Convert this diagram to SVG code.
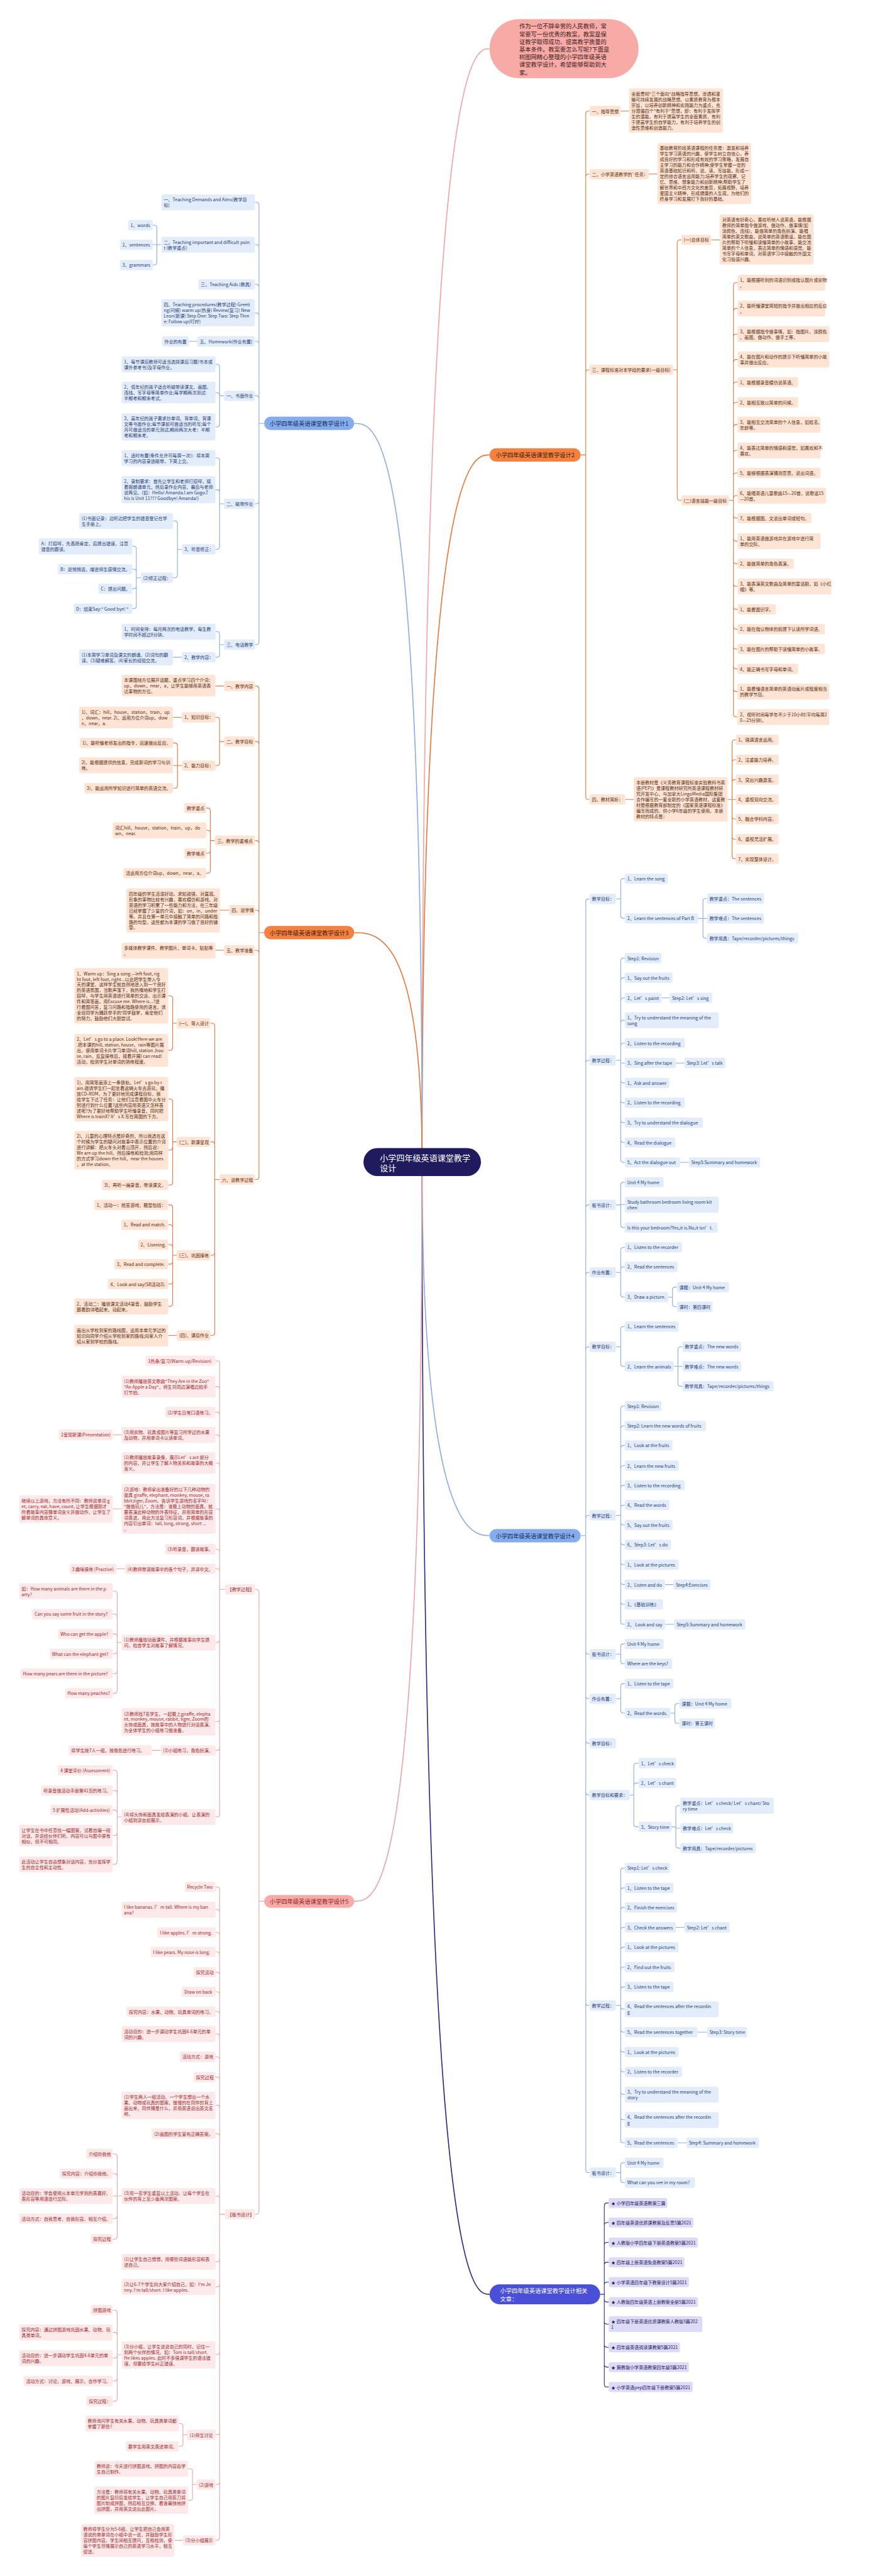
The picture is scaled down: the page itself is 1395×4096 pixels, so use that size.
<svg xmlns="http://www.w3.org/2000/svg" width="1395" height="4096" viewBox="0 0 1395 4096">
<style>
text{font-family:"Noto Sans CJK SC","Noto Sans",sans-serif;font-size:13px;dominant-baseline:central}
rect{rx:5px;ry:5px}
.o rect{fill:#fde4d5}.o text{fill:#5b2b0e}
.b rect{fill:#e3ecfb}.b text{fill:#1f3d79}
.p rect{fill:#fde9e9}.p text{fill:#a3262a}
.v rect{fill:#dcdaf6}.v text{fill:#23205c}
.h text{font-size:17px}
.ho rect{fill:#f4813f;rx:19px;ry:19px}.ho text{fill:#3b1a07}
.hb rect{fill:#85acef;rx:19px;ry:19px}.hb text{fill:#16294f}
.hp rect{fill:#f8aaa8;rx:19px;ry:19px}.hp text{fill:#8e1a1e}
.hv rect{fill:#4a4fd7;rx:29px;ry:29px}.hv text{fill:#fff}
.cen rect{fill:#1f1b5e;rx:41px;ry:41px}.cen text{fill:#fff;font-size:24px}
.bub rect{fill:#f8aaa6;rx:86px;ry:86px}.bub text{fill:#3b2020;font-size:17px}
#connectors path{fill:none;stroke-width:2}
#connectors .m{stroke-width:3}
.co{stroke:#e8773d}.cb{stroke:#88ade8}.cp{stroke:#eca4a4}.cv{stroke:#2b2982}.ck{stroke:#f4a3a0}
</style>
<g transform="scale(0.5449)">
<g id="connectors">
<path class="ck m" d="M1232 3391C1232 142 1380 142 1429 142"/>
<path class="co m" d="M1232 3391C1232 1327.5 1380 1327.5 1429 1327.5"/>
<path class="cb m" d="M1232 3391C1232 4481 1380 4481 1429 4481"/>
<path class="cv m" d="M1232 3391C1232 6695 1380 6695 1429 6695"/>
<path class="cb m" d="M1232 3391C1232 1235.5 1100 1235.5 1034 1235.5"/>
<path class="co m" d="M1232 3391C1232 2721.5 1100 2721.5 1034 2721.5"/>
<path class="cp m" d="M1232 3391C1232 5548 1100 5548 1034 5548"/>
<path class="co" d="M1695 1327.5H1710M1710 1327.5V332Q1710 324 1718 324H1721M1710 1327.5V516Q1710 508 1718 508H1721M1710 1327.5V1087Q1710 1079 1718 1079H1721M1710 1327.5V2325Q1710 2333 1718 2333H1721M1812 324H1836M1894 508H1919"/>
<path class="co" d="M1965 1079H1977M1977 1079V708Q1977 700 1985 700H1989M1977 1079V1452Q1977 1460 1985 1460H1989M2076 700H2101"/>
<path class="co" d="M2128 1460H2141M2141 1460V833Q2141 825 2149 825H2153M2141 1460V908Q2141 900 2149 900H2153M2141 1460V983Q2141 975 2149 975H2153M2141 1460V1057Q2141 1049 2149 1049H2153M2141 1460V1123Q2141 1115 2149 1115H2153M2141 1460V1182Q2141 1174 2149 1174H2153M2141 1460V1247Q2141 1239 2149 1239H2153M2141 1460V1322Q2141 1314 2149 1314H2153M2141 1460V1388Q2141 1380 2149 1380H2153M2141 1460V1454Q2141 1446 2149 1446H2153M2141 1460V1504Q2141 1512 2149 1512H2153M2141 1460V1571Q2141 1579 2149 1579H2153M2141 1460V1637Q2141 1645 2149 1645H2153M2141 1460V1703Q2141 1711 2149 1711H2153M2141 1460V1770Q2141 1778 2149 1778H2153M2141 1460V1828Q2141 1836 2149 1836H2153M2141 1460V1886Q2141 1894 2149 1894H2153M2141 1460V1944Q2141 1952 2149 1952H2153M2141 1460V2010Q2141 2018 2149 2018H2153M2141 1460V2084Q2141 2092 2149 2092H2153"/>
<path class="co" d="M1825 2333H1850M2124 2333H2148M2137 2333V2167Q2137 2159 2145 2159H2148M2137 2333V2225Q2137 2217 2145 2217H2148M2137 2333V2283Q2137 2275 2145 2275H2148M2137 2333V2382Q2137 2390 2145 2390H2148M2137 2333V2441Q2137 2449 2145 2449H2148M2137 2333V2498Q2137 2506 2145 2506H2148"/>
<path class="cb" d="M1695 4481H1710M1710 4481V2631Q1710 2623 1718 2623H1721M1710 4481V3102Q1710 3094 1718 3094H1721M1710 4481V3524Q1710 3516 1718 3516H1721M1710 4481V3721Q1710 3713 1718 3713H1721M1710 4481V3938Q1710 3930 1718 3930H1721M1710 4481V4430Q1710 4422 1718 4422H1721M1710 4481V4819Q1710 4827 1718 4827H1721M1710 4481V4949Q1710 4957 1718 4957H1721M1710 4481V5079Q1710 5087 1718 5087H1721M1710 4481V5230Q1710 5238 1718 5238H1721M1710 4481V5844Q1710 5852 1718 5852H1721M1710 4481V6332Q1710 6340 1718 6340H1721"/>
<path class="cb" d="M1798 2623H1812M1812 2623V2572Q1812 2564 1820 2564H1824M1812 2623V2672Q1812 2680 1820 2680H1824M2038 2680H2064M2052 2680V2630Q2052 2622 2060 2622H2064M2052 2680V2730Q2052 2738 2060 2738H2064"/>
<path class="cb" d="M1798 3094H1812M1812 3094V2804Q1812 2796 1820 2796H1824M1812 3094V2861Q1812 2853 1820 2853H1824M1812 3094V2920Q1812 2912 1820 2912H1824M1812 3094V2985Q1812 2977 1820 2977H1824M1812 3094V3052Q1812 3044 1820 3044H1824M1812 3094V3102H1824M1812 3094V3152Q1812 3160 1820 3160H1824M1812 3094V3210Q1812 3218 1820 3218H1824M1812 3094V3268Q1812 3276 1820 3276H1824M1812 3094V3326Q1812 3334 1820 3334H1824M1812 3094V3384Q1812 3392 1820 3392H1824M1931 2912H1955M1973 3102H1998M1985 3392H2011"/>
<path class="cb" d="M1798 3516H1812M1812 3516V3458Q1812 3450 1820 3450H1824M1812 3515H1824M1812 3516V3574Q1812 3582 1820 3582H1824"/>
<path class="cb" d="M1798 3713H1812M1812 3713V3648Q1812 3640 1820 3640H1824M1812 3713V3705Q1812 3697 1820 3697H1824M1812 3713V3777Q1812 3785 1820 3785H1824M1951 3785H1963M1963 3785V3764Q1963 3756 1971 3756H1976M1963 3785V3805Q1963 3813 1971 3813H1976"/>
<path class="cb" d="M1798 3930H1812M1812 3930V3879Q1812 3871 1820 3871H1824M1812 3930V3979Q1812 3987 1820 3987H1824M1967 3987H1992M1979 3987V3938Q1979 3930 1987 3930H1992M1979 3987V4037Q1979 4045 1987 4045H1992"/>
<path class="cb" d="M1798 4422H1812M1812 4422V4111Q1812 4103 1820 4103H1824M1812 4422V4169Q1812 4161 1820 4161H1824M1812 4422V4226Q1812 4218 1820 4218H1824M1812 4422V4285Q1812 4277 1820 4277H1824M1812 4422V4342Q1812 4334 1820 4334H1824M1812 4422V4400Q1812 4392 1820 4392H1824M1812 4422V4442Q1812 4450 1820 4450H1824M1812 4422V4500Q1812 4508 1820 4508H1824M1812 4422V4558Q1812 4566 1820 4566H1824M1812 4422V4616Q1812 4624 1820 4624H1824M1812 4422V4674Q1812 4682 1820 4682H1824M1812 4422V4732Q1812 4740 1820 4740H1824M1941 4624H1966M1942 4740H1968"/>
<path class="cb" d="M1798 4827H1812M1812 4827V4805Q1812 4797 1820 4797H1824M1812 4827V4847Q1812 4855 1820 4855H1824M1798 4957H1812M1812 4957V4921Q1812 4913 1820 4913H1824M1812 4957V4991Q1812 4999 1820 4999H1824M1957 4999H1970M1970 4999V4979Q1970 4971 1978 4971H1983M1970 4999V5021Q1970 5029 1978 5029H1983"/>
<path class="cb" d="M1838 5238H1850M1850 5238V5153Q1850 5145 1858 5145H1864M1850 5238V5211Q1850 5203 1858 5203H1864M1850 5238V5323Q1850 5331 1858 5331H1864M1960 5331H1973M1973 5331V5277Q1973 5269 1981 5269H1986M1973 5335H1986M1973 5331V5385Q1973 5393 1981 5393H1986"/>
<path class="cb" d="M1798 5852H1812M1812 5852V5459Q1812 5451 1820 5451H1824M1812 5852V5517Q1812 5509 1820 5509H1824M1812 5852V5574Q1812 5566 1820 5566H1824M1812 5852V5632Q1812 5624 1820 5624H1824M1812 5852V5690Q1812 5682 1820 5682H1824M1812 5852V5748Q1812 5740 1820 5740H1824M1812 5852V5806Q1812 5798 1820 5798H1824M1812 5852V5855Q1812 5863 1820 5863H1824M1812 5852V5922Q1812 5930 1820 5930H1824M1812 5852V5980Q1812 5988 1820 5988H1824M1812 5852V6038Q1812 6046 1820 6046H1824M1812 5852V6104Q1812 6112 1820 6112H1824M1812 5852V6178Q1812 6186 1820 6186H1824M1812 5852V6245Q1812 6253 1820 6253H1824M1973 5624H1998M2036 5930H2064M1978 6253H2004"/>
<path class="cb" d="M1798 6340H1812M1812 6340V6319Q1812 6311 1820 6311H1824M1812 6340V6361Q1812 6369 1820 6369H1824"/>
<path class="cv" d="M1752 6695H1764M1764 6695V6436.5Q1764 6428.5 1772 6428.5H1777M1764 6695V6493.5Q1764 6485.5 1772 6485.5H1777M1764 6695V6551.5Q1764 6543.5 1772 6543.5H1777M1764 6695V6609.5Q1764 6601.5 1772 6601.5H1777M1764 6695V6667.5Q1764 6659.5 1772 6659.5H1777M1764 6695V6709.5Q1764 6717.5 1772 6717.5H1777M1764 6695V6774Q1764 6782 1772 6782H1777M1764 6695V6841.5Q1764 6849.5 1772 6849.5H1777M1764 6695V6899.5Q1764 6907.5 1772 6907.5H1777M1764 6695V6957.5Q1764 6965.5 1772 6965.5H1777"/>
<path class="cb" d="M771 1235.5H756M756 1235.5V598Q756 590 748 590H744M756 1235.5V722Q756 714 748 714H744M756 1235.5V838Q756 830 748 830H744M756 1235.5V921Q756 913 748 913H744M756 1235.5V1004Q756 996 748 996H744M756 1235.5V1163Q756 1155 748 1155H744M756 1235.5V1462Q756 1470 748 1470H744M756 1235.5V1873Q756 1881 748 1881H744"/>
<path class="cb" d="M471 714H446M458 714V665Q458 657 450 657H446M458 714V765Q458 773 450 773H446M576 996H551"/>
<path class="cb" d="M654 1155H641M641 1155V1071Q641 1063 633 1063H629M641 1155V1153.5Q641 1145.5 633 1145.5H629M641 1155V1238Q641 1246 633 1246H629M654 1470H641M641 1470V1344Q641 1336 633 1336H629M641 1470V1437Q641 1429 633 1429H629M641 1470V1595Q641 1603 633 1603H629"/>
<path class="cb" d="M531 1603H518M518 1603V1528Q518 1520 510 1520H505M518 1603V1678Q518 1686 510 1686H505M411 1686H398M398 1686V1602Q398 1594 390 1594H386M398 1686V1669Q398 1661 390 1661H386M398 1686V1710Q398 1718 390 1718H386M398 1686V1768Q398 1776 390 1776H386"/>
<path class="cb" d="M654 1881H641M641 1881V1851Q641 1843 633 1843H629M641 1881V1910Q641 1918 633 1918H629M531 1918H505"/>
<path class="co" d="M771 2721.5H756M756 2721.5V2010Q756 2002 748 2002H744M756 2721.5V2172Q756 2164 748 2164H744M756 2721.5V2461Q756 2453 748 2453H744M756 2721.5V2664Q756 2656 748 2656H744M756 2721.5V2781Q756 2773 748 2773H744M756 2721.5V3434Q756 3442 748 3442H744"/>
<path class="co" d="M654 2002H629M654 2164H641M641 2164V2101Q641 2093 633 2093H629M641 2164V2226Q641 2234 633 2234H629M531 2093H505M531 2234H505M518 2234V2176Q518 2168 510 2168H505M518 2234V2292Q518 2300 510 2300H505"/>
<path class="co" d="M627 2453H614M614 2453V2366Q614 2358 606 2358H602M614 2453V2431Q614 2423 606 2423H602M614 2453V2482Q614 2490 606 2490H602M614 2453V2540Q614 2548 606 2548H602M669 2656H642M654 2773H629"/>
<path class="co" d="M641 3442H627M627 3442V2994Q627 2986 619 2986H614M627 3442V3340Q627 3332 619 3332H614M627 3442V3655Q627 3663 619 3663H614M627 3442V3889Q627 3897 619 3897H614"/>
<path class="co" d="M516 2986H504M504 2986V2914Q504 2906 496 2906H491M504 2986V3057Q504 3065 496 3065H491M516 3332H504M504 3332V3215Q504 3207 496 3207H491M504 3332V3348Q504 3356 496 3356H491M504 3332V3450Q504 3458 496 3458H491"/>
<path class="co" d="M516 3663H504M504 3663V3524Q504 3516 496 3516H491M504 3663V3582Q504 3574 496 3574H491M504 3663V3640Q504 3632 496 3632H491M504 3663V3681Q504 3689 496 3689H491M504 3663V3739Q504 3747 496 3747H491M504 3663V3804Q504 3812 496 3812H491M516 3897H491"/>
<path class="cp" d="M771 5548H756M756 5548V4646Q756 4638 748 4638H744M756 5548V6453Q756 6461 748 6461H744"/>
<path class="cp" d="M657 4638H641M641 4638V3979Q641 3971 633 3971H629M641 4638V4054Q641 4046 633 4046H629M641 4638V4129Q641 4121 633 4121H629M641 4638V4195Q641 4187 633 4187H629M641 4638V4277Q641 4269 633 4269H629M641 4638V4411Q641 4403 633 4403H629M641 4638V4529Q641 4521 633 4521H629M641 4638V4586Q641 4578 633 4578H629M641 4638V4785Q641 4793 633 4793H629M641 4638V5016Q641 5024 633 5024H629M641 4638V5100Q641 5108 633 5108H629M641 4638V5294Q641 5302 633 5302H629M355 4187H329M355 4403H329M365 4578H340M469 5108H443"/>
<path class="cp" d="M355 4793H342M342 4793V4651Q342 4643 334 4643H329M342 4793V4718Q342 4710 334 4710H329M342 4793V4776Q342 4768 334 4768H329M342 4793V4818Q342 4826 334 4826H329M342 4793V4876Q342 4884 334 4884H329M342 4793V4933Q342 4941 334 4941H329"/>
<path class="cp" d="M355 5302H342M342 5302V5174Q342 5166 334 5166H329M342 5302V5233Q342 5225 334 5225H329M342 5302V5290Q342 5282 334 5282H329M342 5302V5348Q342 5356 334 5356H329M342 5302V5432Q342 5440 334 5440H329"/>
<path class="cp" d="M657 6461H641M641 6461V5514Q641 5506 633 5506H629M641 6461V5580Q641 5572 633 5572H629M641 6461V5647Q641 5639 633 5639H629M641 6461V5704Q641 5696 633 5696H629M641 6461V5763Q641 5755 633 5755H629M641 6461V5820Q641 5812 633 5812H629M641 6461V5878Q641 5870 633 5870H629M641 6461V5943Q641 5935 633 5935H629M641 6461V6010Q641 6002 633 6002H629M641 6461V6069Q641 6061 633 6061H629M641 6461V6151Q641 6143 633 6143H629M641 6461V6234Q641 6226 633 6226H629M641 6461V6416Q641 6408 633 6408H629M641 6461V6592Q641 6600 633 6600H629M641 6461V6665Q641 6673 633 6673H629M641 6461V6863Q641 6871 633 6871H629M641 6461V7097Q641 7105 633 7105H629M641 6461V7242Q641 7250 633 7250H629M641 6461V7405Q641 7413 633 7413H629"/>
<path class="cp" d="M355 6408H329M342 6408V6293Q342 6285 334 6285H329M342 6408V6351Q342 6343 334 6343H329M342 6408V6466Q342 6474 334 6474H329M342 6408V6526Q342 6534 334 6534H329"/>
<path class="cp" d="M355 6871H342M342 6871V6749Q342 6741 334 6741H329M342 6871V6814Q342 6806 334 6806H329M342 6871V6873Q342 6881 334 6881H329M342 6871V6940Q342 6948 334 6948H329M342 6871V6999Q342 7007 334 7007H329"/>
<path class="cp" d="M547 7105H534M534 7105V7080Q534 7072 526 7072H522M534 7105V7131Q534 7139 526 7139H522M574 7250H562M562 7250V7212Q562 7204 554 7204H549M562 7250V7288Q562 7296 554 7296H549M534 7413H509"/>
</g>

<g id="n-intro" class="bub"><rect x="1429" y="56" width="435" height="172"/><text><tspan x="1516" y="76">作为一位不辞辛劳的人民教师，常</tspan><tspan x="1516" y="98.4">常要写一份优秀的教案，教案是保</tspan><tspan x="1516" y="120.8">证教学取得成功、提高教学质量的</tspan><tspan x="1516" y="143.2">基本条件。教案要怎么写呢?下面是</tspan><tspan x="1516" y="165.6">树图网精心整理的小学四年级英语</tspan><tspan x="1516" y="188">课堂教学设计，希望能够帮助到大</tspan><tspan x="1516" y="210.4">家。</tspan></text></g>

<g id="n-root" class="cen"><rect x="1061" y="3350" width="343" height="82"/><text><tspan x="1109" y="3376">小学四年级英语课堂教学</tspan><tspan x="1109" y="3406">设计</tspan></text></g>

<!-- Section: 设计2 -->
<g id="n-a" class="h ho"><rect x="1429" y="1308" width="266" height="39"/><text x="1562" y="1327.5" text-anchor="middle">小学四年级英语课堂教学设计2</text></g>
<g id="n-a1" class="o"><rect x="1721" y="309" width="91" height="30"/><text x="1728" y="324">一、指导思想</text></g>
<g id="n-a1t" class="o"><rect x="1836" y="258" width="274" height="129"/><text><tspan x="1843" y="273">全面贯彻"三个面向"战略指导思想，渗透和灌</tspan><tspan x="1843" y="289.5">输可持续发展的战略思想。以素质教育为根本</tspan><tspan x="1843" y="306">宗旨，以培养创新精神和实践能力为重点，充</tspan><tspan x="1843" y="322.5">分遵循四个"有利于"思想，即：有利于发挥学</tspan><tspan x="1843" y="339">生的潜能，有利于提高学生的全面素质，有利</tspan><tspan x="1843" y="355.5">于提高学生的自学能力，有利于培养学生的创</tspan><tspan x="1843" y="372">造性思维和创造能力。</tspan></text></g>
<g id="n-a2" class="o"><rect x="1721" y="493" width="173" height="30"/><text x="1728" y="508">二、小学英语教学的`任务：</text></g>
<g id="n-a2t" class="o"><rect x="1919" y="417" width="274" height="178.5"/><text><tspan x="1926" y="432">基础教育阶段英语课程的任务是：激发和培养</tspan><tspan x="1926" y="448.5">学生学习英语的兴趣，使学生树立自信心，养</tspan><tspan x="1926" y="465">成良好的学习和形成有效的学习策略，发展自</tspan><tspan x="1926" y="481.5">主学习的能力和合作精神;使学生掌握一定的</tspan><tspan x="1926" y="498">英语基础知识和听、说、读、写技能，形成一</tspan><tspan x="1926" y="514.5">定的综合语言运用能力;培养学生的观察、记</tspan><tspan x="1926" y="531">忆、思维、想象能力和创新精神;帮助学生了</tspan><tspan x="1926" y="547.5">解世界和中西方文化的差异，拓展视野，培养</tspan><tspan x="1926" y="564">爱国主义精神，形成健康的人生观，为他们的</tspan><tspan x="1926" y="580.5">终身学习和发展打下良好的基础。</tspan></text></g>
<g id="n-a3" class="o"><rect x="1721" y="1064" width="244" height="30"/><text x="1728" y="1079">三、课程标准对本学段的要求(一级目标)</text></g>
<g id="n-a31" class="o"><rect x="1989" y="685" width="87" height="30"/><text x="1996" y="700">(一)总体目标</text></g>
<g id="n-a31t" class="o"><rect x="2101" y="626" width="274" height="145.5"/><text><tspan x="2108" y="641">对英语有好奇心，喜欢听他人说英语。能根据</tspan><tspan x="2108" y="657.5">教师的简单指令做游戏、做动作、做事情(如</tspan><tspan x="2108" y="674">涂颜色、连线)。能做简单的角色扮演。能唱</tspan><tspan x="2108" y="690.5">简单的英文歌曲，说简单的英语歌谣。能在图</tspan><tspan x="2108" y="707">片的帮助下听懂和读懂简单的小故事。能交流</tspan><tspan x="2108" y="723.5">简单的个人信息，表达简单的情感和感觉。能</tspan><tspan x="2108" y="740">书写字母和单词。对英语学习中接触的外国文</tspan><tspan x="2108" y="756.5">化习俗感兴趣。</tspan></text></g>
<g id="n-a32" class="o"><rect x="1989" y="1445" width="139" height="30"/><text x="1996" y="1460">(二)语言技能一级目标</text></g>
<g id="n-a32-1" class="o"><rect x="2153" y="802" width="256" height="46.5"/><text><tspan x="2160" y="817">1、能根据听到的词语识别或指认图片或实物</tspan><tspan x="2160" y="833.5">。</tspan></text></g>
<g id="n-a32-2" class="o"><rect x="2153" y="877" width="256" height="46.5"/><text><tspan x="2160" y="892">2、能听懂课堂简短的指令并做出相应的反应</tspan><tspan x="2160" y="908.5">。</tspan></text></g>
<g id="n-a32-3" class="o"><rect x="2153" y="952" width="268" height="46.5"/><text><tspan x="2160" y="967">3、能根据指令做事情，如：指图片、涂颜色</tspan><tspan x="2160" y="983.5">、画图、做动作、做手工等。</tspan></text></g>
<g id="n-a32-4" class="o"><rect x="2153" y="1026" width="268" height="46.5"/><text><tspan x="2160" y="1041">4、能在图片和动作的提示下听懂简单的小故</tspan><tspan x="2160" y="1057.5">事并做出反应。</tspan></text></g>
<g id="n-a32-5" class="o"><rect x="2153" y="1100" width="177" height="30"/><text x="2160" y="1115">1、能根据录音模仿说英语。</text></g>
<g id="n-a32-6" class="o"><rect x="2153" y="1159" width="177" height="30"/><text x="2160" y="1174">2、能相互致以简单的问候。</text></g>
<g id="n-a32-7" class="o"><rect x="2153" y="1216" width="242" height="46.5"/><text><tspan x="2160" y="1231">3、能相互交流简单的个人信息，如姓名、</tspan><tspan x="2160" y="1247.5">年龄等。</tspan></text></g>
<g id="n-a32-8" class="o"><rect x="2153" y="1291" width="242" height="46.5"/><text><tspan x="2160" y="1306">4、能表达简单的情感和感觉，如喜欢和不</tspan><tspan x="2160" y="1322.5">喜欢。</tspan></text></g>
<g id="n-a32-9" class="o"><rect x="2153" y="1365" width="242" height="30"/><text x="2160" y="1380">5、能够根据表演猜测意思、说出词语。</text></g>
<g id="n-a32-10" class="o"><rect x="2153" y="1423" width="258" height="46.5"/><text><tspan x="2160" y="1438">6、能唱英语儿童歌曲15—20首，说歌谣15</tspan><tspan x="2160" y="1454.5">—20首。</tspan></text></g>
<g id="n-a32-11" class="o"><rect x="2153" y="1497" width="216" height="30"/><text x="2160" y="1512">7、能根据图、文说出单词或短句。</text></g>
<g id="n-a32-12" class="o"><rect x="2153" y="1556" width="242" height="46.5"/><text><tspan x="2160" y="1571">1、能用英语做游戏并在游戏中进行简</tspan><tspan x="2160" y="1587.5">单的交际。</tspan></text></g>
<g id="n-a32-13" class="o"><rect x="2153" y="1630" width="164" height="30"/><text x="2160" y="1645">2、能做简单的角色表演。</text></g>
<g id="n-a32-14" class="o"><rect x="2153" y="1688" width="274" height="46.5"/><text><tspan x="2160" y="1703">3、能表演英文歌曲及简单的童话剧，如《小红</tspan><tspan x="2160" y="1719.5">帽》等。</tspan></text></g>
<g id="n-a32-15" class="o"><rect x="2153" y="1763" width="112" height="30"/><text x="2160" y="1778">1、能看图识字。</text></g>
<g id="n-a32-16" class="o"><rect x="2153" y="1821" width="255" height="30"/><text x="2160" y="1836">2、能在指认物体的前提下认读所学词语。</text></g>
<g id="n-a32-17" class="o"><rect x="2153" y="1879" width="255" height="30"/><text x="2160" y="1894">3、能在图片的帮助下读懂简单的小故事。</text></g>
<g id="n-a32-18" class="o"><rect x="2153" y="1937" width="177" height="30"/><text x="2160" y="1952">4、能正确书写字母和单词。</text></g>
<g id="n-a32-19" class="o"><rect x="2153" y="1995" width="268" height="46.5"/><text><tspan x="2160" y="2010">1、能看懂语言简单的英语动画片或程度相当</tspan><tspan x="2160" y="2026.5">的教学节目。</tspan></text></g>
<g id="n-a32-20" class="o"><rect x="2153" y="2069" width="268" height="46.5"/><text><tspan x="2160" y="2084">2、视听时间每学年不少于10小时(平均每周2</tspan><tspan x="2160" y="2100.5">0—25分钟)。</tspan></text></g>
<g id="n-a4" class="o"><rect x="1721" y="2318" width="104" height="30"/><text x="1728" y="2333">四、教材简析：</text></g>
<g id="n-a4t" class="o"><rect x="1850" y="2268" width="274" height="129"/><text><tspan x="1857" y="2283">本册教材是《义务教育课程标准实验教科书英</tspan><tspan x="1857" y="2299.5">语(PEP)》是课程教材研究所英语课程教材研</tspan><tspan x="1857" y="2316">究开发中心，与加拿大LingoMedia国际集团</tspan><tspan x="1857" y="2332.5">合作编写的一套全新的小学英语教材。这套教</tspan><tspan x="1857" y="2349">材是根据教育部制定的《国家英语课程标准》</tspan><tspan x="1857" y="2365.5">编写而成的。供小学6年级的学生使用。本册</tspan><tspan x="1857" y="2382">教材的特点是：</tspan></text></g>
<g id="n-a4-1" class="o"><rect x="2148" y="2144" width="125" height="30"/><text x="2155" y="2159">1、强调语言运用。</text></g>
<g id="n-a4-2" class="o"><rect x="2148" y="2202" width="125" height="30"/><text x="2155" y="2217">2、注重能力培养。</text></g>
<g id="n-a4-3" class="o"><rect x="2148" y="2260" width="125" height="30"/><text x="2155" y="2275">3、突出兴趣激发。</text></g>
<g id="n-a4-4" class="o"><rect x="2148" y="2318" width="125" height="30"/><text x="2155" y="2333">4、重视双向交流。</text></g>
<g id="n-a4-5" class="o"><rect x="2148" y="2375" width="125" height="30"/><text x="2155" y="2390">5、融合学科内容。</text></g>
<g id="n-a4-6" class="o"><rect x="2148" y="2434" width="125" height="30"/><text x="2155" y="2449">6、重视灵活扩展。</text></g>
<g id="n-a4-7" class="o"><rect x="2148" y="2491" width="125" height="30"/><text x="2155" y="2506">7、实现整体设计。</text></g>

<!-- Section: 设计4 -->
<g id="n-b" class="h hb"><rect x="1429" y="4462" width="266" height="39"/><text x="1562" y="4481.5" text-anchor="middle">小学四年级英语课堂教学设计4</text></g>
<g id="n-b1" class="b"><rect x="1721" y="2608" width="77" height="30"/><text x="1728" y="2623">教学目标：</text></g>
<g id="n-b1-1" class="b"><rect x="1824" y="2549" width="125" height="30"/><text x="1831" y="2564">1、Learn the song</text></g>
<g id="n-b1-2" class="b"><rect x="1824" y="2665" width="214" height="30"/><text x="1831" y="2680">2、Learn the sentences of Part B</text></g>
<g id="n-b1-2a" class="b"><rect x="2064" y="2607" width="166" height="30"/><text x="2071" y="2622">教学重点：The sentences</text></g>
<g id="n-b1-2b" class="b"><rect x="2064" y="2665" width="166" height="30"/><text x="2071" y="2680">教学难点：The sentences</text></g>
<g id="n-b1-2c" class="b"><rect x="2064" y="2723" width="266" height="30"/><text x="2071" y="2738">教学用具：Tape/recorder/pictures/things</text></g>
<g id="n-b2" class="b"><rect x="1721" y="3079" width="77" height="30"/><text x="1728" y="3094">教学过程：</text></g>
<g id="n-b2-1" class="b"><rect x="1824" y="2781" width="107" height="30"/><text x="1831" y="2796">Step1: Revision</text></g>
<g id="n-b2-2" class="b"><rect x="1824" y="2838" width="139" height="30"/><text x="1831" y="2853">1、Say out the fruits</text></g>
<g id="n-b2-3" class="b"><rect x="1824" y="2897" width="107" height="30"/><text x="1831" y="2912">2、Let’s paint</text></g>
<g id="n-b2-3s" class="b"><rect x="1955" y="2897" width="124" height="30"/><text x="1962" y="2912">Step2: Let’s sing</text></g>
<g id="n-b2-4" class="b"><rect x="1824" y="2954" width="274" height="46.5"/><text><tspan x="1831" y="2969">1、Try to understand the meaning of the</tspan><tspan x="1831" y="2985.5">song</tspan></text></g>
<g id="n-b2-5" class="b"><rect x="1824" y="3029" width="175" height="30"/><text x="1831" y="3044">2、Listen to the recording</text></g>
<g id="n-b2-6" class="b"><rect x="1824" y="3087" width="149" height="30"/><text x="1831" y="3102">3、Sing after the tape</text></g>
<g id="n-b2-6s" class="b"><rect x="1998" y="3087" width="120" height="30"/><text x="2005" y="3102">Step3: Let’s talk</text></g>
<g id="n-b2-7" class="b"><rect x="1824" y="3145" width="130" height="30"/><text x="1831" y="3160">1、Ask and answer</text></g>
<g id="n-b2-8" class="b"><rect x="1824" y="3203" width="175" height="30"/><text x="1831" y="3218">2、Listen to the recording</text></g>
<g id="n-b2-9" class="b"><rect x="1824" y="3261" width="228" height="30"/><text x="1831" y="3276">3、Try to understand the dialogue</text></g>
<g id="n-b2-10" class="b"><rect x="1824" y="3319" width="147" height="30"/><text x="1831" y="3334">4、Read the dialogue</text></g>
<g id="n-b2-11" class="b"><rect x="1824" y="3377" width="161" height="30"/><text x="1831" y="3392">5、Act the dialogue out</text></g>
<g id="n-b2-11s" class="b"><rect x="2011" y="3377" width="208" height="30"/><text x="2018" y="3392">Step5:Summary and homework</text></g>
<g id="n-b3" class="b"><rect x="1721" y="3501" width="77" height="30"/><text x="1728" y="3516">板书设计：</text></g>
<g id="n-b3-1" class="b"><rect x="1824" y="3435" width="113" height="30"/><text x="1831" y="3450">Unit 4 My home</text></g>
<g id="n-b3-2" class="b"><rect x="1824" y="3492" width="274" height="46.5"/><text><tspan x="1831" y="3507">Study bathroom bedroom living room kit</tspan><tspan x="1831" y="3523.5">chen</tspan></text></g>
<g id="n-b3-3" class="b"><rect x="1824" y="3567" width="271" height="30"/><text x="1831" y="3582">Is this your bedroom?Yes,it is.No,it isn’t.</text></g>
<g id="n-b4" class="b"><rect x="1721" y="3698" width="77" height="30"/><text x="1728" y="3713">作业布置：</text></g>
<g id="n-b4-1" class="b"><rect x="1824" y="3625" width="167" height="30"/><text x="1831" y="3640">1、Listen to the recorder</text></g>
<g id="n-b4-2" class="b"><rect x="1824" y="3682" width="154" height="30"/><text x="1831" y="3697">2、Read the sentences</text></g>
<g id="n-b4-3" class="b"><rect x="1824" y="3770" width="127" height="30"/><text x="1831" y="3785">3、Draw a picture.</text></g>
<g id="n-b4-3a" class="b"><rect x="1976" y="3741" width="152" height="30"/><text x="1983" y="3756">课题：Unit 4 My home</text></g>
<g id="n-b4-3b" class="b"><rect x="1976" y="3798" width="104" height="30"/><text x="1983" y="3813">课时：第四课时</text></g>
<g id="n-b5" class="b"><rect x="1721" y="3915" width="77" height="30"/><text x="1728" y="3930">教学目标：</text></g>
<g id="n-b5-1" class="b"><rect x="1824" y="3856" width="157" height="30"/><text x="1831" y="3871">1、Learn the sentences</text></g>
<g id="n-b5-2" class="b"><rect x="1824" y="3972" width="143" height="30"/><text x="1831" y="3987">2、Learn the animals</text></g>
<g id="n-b5-2a" class="b"><rect x="1992" y="3915" width="172" height="30"/><text x="1999" y="3930">教学重点：The new words</text></g>
<g id="n-b5-2b" class="b"><rect x="1992" y="3972" width="172" height="30"/><text x="1999" y="3987">教学难点：The new words</text></g>
<g id="n-b5-2c" class="b"><rect x="1992" y="4030" width="266" height="30"/><text x="1999" y="4045">教学用具：Tape/recorder/pictures/things</text></g>
<g id="n-b6" class="b"><rect x="1721" y="4407" width="77" height="30"/><text x="1728" y="4422">教学过程：</text></g>
<g id="n-b6-1" class="b"><rect x="1824" y="4088" width="107" height="30"/><text x="1831" y="4103">Step1: Revision</text></g>
<g id="n-b6-2" class="b"><rect x="1824" y="4146" width="237" height="30"/><text x="1831" y="4161">Step2: Learn the new words of fruits</text></g>
<g id="n-b6-3" class="b"><rect x="1824" y="4203" width="139" height="30"/><text x="1831" y="4218">1、Look at the fruits</text></g>
<g id="n-b6-4" class="b"><rect x="1824" y="4262" width="157" height="30"/><text x="1831" y="4277">2、Learn the new fruits</text></g>
<g id="n-b6-5" class="b"><rect x="1824" y="4319" width="175" height="30"/><text x="1831" y="4334">3、Listen to the recording</text></g>
<g id="n-b6-6" class="b"><rect x="1824" y="4377" width="130" height="30"/><text x="1831" y="4392">4、Read the words</text></g>
<g id="n-b6-7" class="b"><rect x="1824" y="4435" width="139" height="30"/><text x="1831" y="4450">5、Say out the fruits</text></g>
<g id="n-b6-8" class="b"><rect x="1824" y="4493" width="135" height="30"/><text x="1831" y="4508">6、Step3: Let’s do</text></g>
<g id="n-b6-9" class="b"><rect x="1824" y="4551" width="157" height="30"/><text x="1831" y="4566">1、Look at the pictures</text></g>
<g id="n-b6-10" class="b"><rect x="1824" y="4609" width="117" height="30"/><text x="1831" y="4624">2、Listen and do</text></g>
<g id="n-b6-10s" class="b"><rect x="1966" y="4609" width="108" height="30"/><text x="1973" y="4624">Step4:Exercises</text></g>
<g id="n-b6-11" class="b"><rect x="1824" y="4667" width="111" height="30"/><text x="1831" y="4682">1、《基础训练》</text></g>
<g id="n-b6-12" class="b"><rect x="1824" y="4725" width="118" height="30"/><text x="1831" y="4740">2、 Look and say</text></g>
<g id="n-b6-12s" class="b"><rect x="1968" y="4725" width="208" height="30"/><text x="1975" y="4740">Step5:Summary and homework</text></g>
<g id="n-b7" class="b"><rect x="1721" y="4812" width="77" height="30"/><text x="1728" y="4827">板书设计：</text></g>
<g id="n-b7-1" class="b"><rect x="1824" y="4782" width="113" height="30"/><text x="1831" y="4797">Unit 4 My home</text></g>
<g id="n-b7-2" class="b"><rect x="1824" y="4840" width="138" height="30"/><text x="1831" y="4855">Where are the keys?</text></g>
<g id="n-b8" class="b"><rect x="1721" y="4942" width="77" height="30"/><text x="1728" y="4957">作业布置：</text></g>
<g id="n-b8-1" class="b"><rect x="1824" y="4898" width="142" height="30"/><text x="1831" y="4913">1、Listen to the tape</text></g>
<g id="n-b8-2" class="b"><rect x="1824" y="4984" width="133" height="30"/><text x="1831" y="4999">2、Read the words.</text></g>
<g id="n-b8-2a" class="b"><rect x="1983" y="4956" width="152" height="30"/><text x="1990" y="4971">课题：Unit 4 My home</text></g>
<g id="n-b8-2b" class="b"><rect x="1983" y="5014" width="103" height="30"/><text x="1990" y="5029">课时：第五课时</text></g>
<g id="n-b9" class="b"><rect x="1721" y="5072" width="77" height="30"/><text x="1728" y="5087">教学目标：</text></g>
<g id="n-b10" class="b"><rect x="1721" y="5223" width="117" height="30"/><text x="1728" y="5238">教学目标和要求：</text></g>
<g id="n-b10-1" class="b"><rect x="1864" y="5130" width="110" height="30"/><text x="1871" y="5145">1、Let’s check</text></g>
<g id="n-b10-2" class="b"><rect x="1864" y="5188" width="110" height="30"/><text x="1871" y="5203">2、Let’s chant</text></g>
<g id="n-b10-3" class="b"><rect x="1864" y="5316" width="96" height="30"/><text x="1871" y="5331">3、Story time</text></g>
<g id="n-b10-3a" class="b"><rect x="1986" y="5246" width="273" height="46.5"/><text><tspan x="1993" y="5261">教学重点：Let’s check/ Let’s chant/ Sto</tspan><tspan x="1993" y="5277.5">ry time</tspan></text></g>
<g id="n-b10-3b" class="b"><rect x="1986" y="5320" width="154" height="30"/><text x="1993" y="5335">教学难点：Let’s check</text></g>
<g id="n-b10-3c" class="b"><rect x="1986" y="5378" width="220" height="30"/><text x="1993" y="5393">教学用具：Tape/recorder/pictures</text></g>
<g id="n-b11" class="b"><rect x="1721" y="5837" width="77" height="30"/><text x="1728" y="5852">教学过程：</text></g>
<g id="n-b11-1" class="b"><rect x="1824" y="5436" width="132" height="30"/><text x="1831" y="5451">Step1: Let’s check</text></g>
<g id="n-b11-2" class="b"><rect x="1824" y="5494" width="142" height="30"/><text x="1831" y="5509">1、Listen to the tape</text></g>
<g id="n-b11-3" class="b"><rect x="1824" y="5551" width="153" height="30"/><text x="1831" y="5566">2、Finish the exercises</text></g>
<g id="n-b11-4" class="b"><rect x="1824" y="5609" width="149" height="30"/><text x="1831" y="5624">3、Check the answers</text></g>
<g id="n-b11-4s" class="b"><rect x="1998" y="5609" width="132" height="30"/><text x="2005" y="5624">Step2: Let’s chant</text></g>
<g id="n-b11-5" class="b"><rect x="1824" y="5667" width="157" height="30"/><text x="1831" y="5682">1、Look at the pictures</text></g>
<g id="n-b11-6" class="b"><rect x="1824" y="5725" width="145" height="30"/><text x="1831" y="5740">2、Find out the fruits</text></g>
<g id="n-b11-7" class="b"><rect x="1824" y="5783" width="142" height="30"/><text x="1831" y="5798">3、Listen to the tape</text></g>
<g id="n-b11-8" class="b"><rect x="1824" y="5840" width="274" height="46.5"/><text><tspan x="1831" y="5855">4、Read the sentences after the recordin</tspan><tspan x="1831" y="5871.5">g</tspan></text></g>
<g id="n-b11-9" class="b"><rect x="1824" y="5915" width="212" height="30"/><text x="1831" y="5930">5、Read the sentences together</text></g>
<g id="n-b11-9s" class="b"><rect x="2064" y="5915" width="117" height="30"/><text x="2071" y="5930">Step3: Story time</text></g>
<g id="n-b11-10" class="b"><rect x="1824" y="5973" width="157" height="30"/><text x="1831" y="5988">1、Look at the pictures</text></g>
<g id="n-b11-11" class="b"><rect x="1824" y="6031" width="167" height="30"/><text x="1831" y="6046">2、Listen to the recorder</text></g>
<g id="n-b11-12" class="b"><rect x="1824" y="6089" width="274" height="46.5"/><text><tspan x="1831" y="6104">3、Try to understand the meaning of the</tspan><tspan x="1831" y="6120.5">story</tspan></text></g>
<g id="n-b11-13" class="b"><rect x="1824" y="6163" width="274" height="46.5"/><text><tspan x="1831" y="6178">4、Read the sentences after the recordin</tspan><tspan x="1831" y="6194.5">g</tspan></text></g>
<g id="n-b11-14" class="b"><rect x="1824" y="6238" width="154" height="30"/><text x="1831" y="6253">5、Read the sentences</text></g>
<g id="n-b11-14s" class="b"><rect x="2004" y="6238" width="212" height="30"/><text x="2011" y="6253">Step4: Summary and homework</text></g>
<g id="n-b12" class="b"><rect x="1721" y="6325" width="77" height="30"/><text x="1728" y="6340">板书设计：</text></g>
<g id="n-b12-1" class="b"><rect x="1824" y="6296" width="113" height="30"/><text x="1831" y="6311">Unit 4 My home</text></g>
<g id="n-b12-2" class="b"><rect x="1824" y="6354" width="205" height="30"/><text x="1831" y="6369">What can you see in my room?</text></g>

<!-- Section: related -->
<g id="n-c" class="h hv"><rect x="1429" y="6666" width="323" height="58"/><text><tspan x="1460" y="6684">小学四年级英语课堂教学设计相关</tspan><tspan x="1460" y="6707">文章：</tspan></text></g>
<g id="n-c1" class="v"><rect x="1777" y="6414" width="171" height="29"/><text x="1784" y="6428.5">★ 小学四年级英语教案三篇</text></g>
<g id="n-c2" class="v"><rect x="1777" y="6471" width="247" height="29"/><text x="1784" y="6485.5">★ 四年级英语优质课教案及反思5篇2021</text></g>
<g id="n-c3" class="v"><rect x="1777" y="6529" width="260" height="29"/><text x="1784" y="6543.5">★ 人教版小学四年级下册英语教案5篇2021</text></g>
<g id="n-c4" class="v"><rect x="1777" y="6587" width="221" height="29"/><text x="1784" y="6601.5">★ 四年级上册英语免费教案5篇2021</text></g>
<g id="n-c5" class="v"><rect x="1777" y="6645" width="234" height="29"/><text x="1784" y="6659.5">★ 小学英语四年级下教案设计5篇2021</text></g>
<g id="n-c6" class="v"><rect x="1777" y="6703" width="260" height="29"/><text x="1784" y="6717.5">★ 人教版四年级英语上册教案全册5篇2021</text></g>
<g id="n-c7" class="v"><rect x="1777" y="6759" width="273" height="46"/><text><tspan x="1784" y="6774">★ 四年级下册英语优质课教案人教版5篇202</tspan><tspan x="1784" y="6790.5">1</tspan></text></g>
<g id="n-c8" class="v"><rect x="1777" y="6835" width="208" height="29"/><text x="1784" y="6849.5">★ 四年级英语阅读课教案5篇2021</text></g>
<g id="n-c9" class="v"><rect x="1777" y="6893" width="234" height="29"/><text x="1784" y="6907.5">★ 冀教版小学英语教案四年级5篇2021</text></g>
<g id="n-c10" class="v"><rect x="1777" y="6951" width="245" height="29"/><text x="1784" y="6965.5">★ 小学英语pep四年级下册教案5篇2021</text></g>

<!-- Section: 设计1 -->
<g id="n-l1" class="h hb"><rect x="771" y="1216" width="263" height="39"/><text x="902.5" y="1235.5" text-anchor="middle">小学四年级英语课堂教学设计1</text></g>
<g id="n-l1-1" class="b"><rect x="471" y="567" width="273" height="46.5"/><text><tspan x="478" y="582">一、Teaching Demands and Aims(教学目</tspan><tspan x="478" y="598.5">标)</tspan></text></g>
<g id="n-l1-2" class="b"><rect x="471" y="691" width="273" height="46.5"/><text><tspan x="478" y="706">二、Teaching important and difficult poin</tspan><tspan x="478" y="722.5">t (教学重点)</tspan></text></g>
<g id="n-l1-2a" class="b"><rect x="374" y="642" width="72" height="30"/><text x="381" y="657">1、words</text></g>
<g id="n-l1-2b" class="b"><rect x="350" y="699" width="96" height="30"/><text x="357" y="714">2、sentences</text></g>
<g id="n-l1-2c" class="b"><rect x="350" y="758" width="96" height="30"/><text x="357" y="773">3、grammars</text></g>
<g id="n-l1-3" class="b"><rect x="579" y="815" width="165" height="30"/><text x="586" y="830">三、Teaching Aids (教具)</text></g>
<g id="n-l1-4" class="b"><rect x="471" y="873" width="273" height="79.5"/><text><tspan x="478" y="888">四、Teaching procedures(教学过程) Greeti</tspan><tspan x="478" y="904.5">ng(问候) warm up(热身) Review(复习) New</tspan><tspan x="478" y="921">Leon(新课) Step One: Step Two: Step Thre</tspan><tspan x="478" y="937.5">e: Follow up(叮咛)</tspan></text></g>
<g id="n-l1-5" class="b"><rect x="576" y="981" width="168" height="30"/><text x="583" y="996">五、Homework(作业布置)</text></g>
<g id="n-l1-5a" class="b"><rect x="473" y="981" width="78" height="30"/><text x="480" y="996">作业的布置</text></g>
<g id="n-l1-6" class="b"><rect x="654" y="1140" width="90" height="30"/><text x="661" y="1155">一、书面作业</text></g>
<g id="n-l1-6a" class="b"><rect x="355" y="1040" width="274" height="46.5"/><text><tspan x="362" y="1055">1、每节课后教师可适当选择课后习题(书本或</tspan><tspan x="362" y="1071.5">课外参考书)及字母作业。</tspan></text></g>
<g id="n-l1-6b" class="b"><rect x="355" y="1114" width="274" height="63"/><text><tspan x="362" y="1129">2、低年纪的孩子适合听磁带读课文、画图、</tspan><tspan x="362" y="1145.5">连线、写字母等简单作业;每学期两次测试:</tspan><tspan x="362" y="1162">半期考和期末考试。</tspan></text></g>
<g id="n-l1-6c" class="b"><rect x="355" y="1206" width="274" height="79.5"/><text><tspan x="362" y="1221">3、高年纪的孩子要求抄单词、背单词、背课</tspan><tspan x="362" y="1237.5">文等书面作业;每节课前可做适当的听写;每个</tspan><tspan x="362" y="1254">月可做适当的单元测试;期间两次大考：半期</tspan><tspan x="362" y="1270.5">考和期末考。</tspan></text></g>
<g id="n-l1-7" class="b"><rect x="654" y="1455" width="90" height="30"/><text x="661" y="1470">二、磁带作业</text></g>
<g id="n-l1-7a" class="b"><rect x="355" y="1313" width="274" height="46.5"/><text><tspan x="362" y="1328">1、适时布置(条件允许可每周一次)：将本周</tspan><tspan x="362" y="1344.5">学习的内容录进磁带，下周上交。</tspan></text></g>
<g id="n-l1-7b" class="b"><rect x="355" y="1389" width="274" height="79.5"/><text><tspan x="362" y="1404">2、录制要求：首先让学生和老师打招呼，接</tspan><tspan x="362" y="1420.5">着报朗诵单元，然后录作业内容，最后与老师</tspan><tspan x="362" y="1437">说再见。(如：Hello! Amanda.I am Gogo.T</tspan><tspan x="362" y="1453.5">his is Unit 11??? Goodbye! Amanda!)</tspan></text></g>
<g id="n-l1-7c" class="b"><rect x="531" y="1588" width="98" height="30"/><text x="538" y="1603">3、听音修正：</text></g>
<g id="n-l1-7c1" class="b"><rect x="231" y="1497" width="274" height="46.5"/><text><tspan x="238" y="1512">(1)书面记录：边听边把学生的错音登记在学</tspan><tspan x="238" y="1528.5">生手册上。</tspan></text></g>
<g id="n-l1-7c2" class="b"><rect x="411" y="1671" width="94" height="30"/><text x="418" y="1686">(2)修正过程：</text></g>
<g id="n-l1-7c2a" class="b"><rect x="113" y="1571" width="273" height="46.5"/><text><tspan x="120" y="1586">A：打招呼，先表扬肯定，后提出错误，注意</tspan><tspan x="120" y="1602.5">错音的跟读。</tspan></text></g>
<g id="n-l1-7c2b" class="b"><rect x="169" y="1646" width="217" height="30"/><text x="176" y="1661">B：说悄悄话，增进师生感情交流。</text></g>
<g id="n-l1-7c2c" class="b"><rect x="287" y="1703" width="99" height="30"/><text x="294" y="1718">C：提出问题。</text></g>
<g id="n-l1-7c2d" class="b"><rect x="215" y="1761" width="171" height="30"/><text x="222" y="1776">D：结束Say:" Good bye! "</text></g>
<g id="n-l1-8" class="b"><rect x="654" y="1866" width="90" height="30"/><text x="661" y="1881">三、电话教学</text></g>
<g id="n-l1-8a" class="b"><rect x="355" y="1820" width="274" height="46.5"/><text><tspan x="362" y="1835">1、时间安排：每月两次的电话教学，每生教</tspan><tspan x="362" y="1851.5">学时间不超过8分钟。</tspan></text></g>
<g id="n-l1-8b" class="b"><rect x="531" y="1903" width="98" height="30"/><text x="538" y="1918">2、教学内容：</text></g>
<g id="n-l1-8b1" class="b"><rect x="231" y="1895" width="274" height="46.5"/><text><tspan x="238" y="1910">(1)本周学习单词及课文的朗诵。(2)词句的翻</tspan><tspan x="238" y="1926.5">译。(3)疑难解答。(4)家长的经验交流。</tspan></text></g>

<!-- Section: 设计3 -->
<g id="n-l2" class="h ho"><rect x="771" y="2702" width="263" height="39"/><text x="902.5" y="2721.5" text-anchor="middle">小学四年级英语课堂教学设计3</text></g>
<g id="n-l2-1" class="o"><rect x="654" y="1987" width="90" height="30"/><text x="661" y="2002">一、教学内容</text></g>
<g id="n-l2-1t" class="o"><rect x="355" y="1969" width="274" height="63"/><text><tspan x="362" y="1984">本课围绕方位展开话题，重点学习四个介词：</tspan><tspan x="362" y="2000.5">up，down，near，a，让学生能够用英语表</tspan><tspan x="362" y="2017">达事物的方位。</tspan></text></g>
<g id="n-l2-2" class="o"><rect x="654" y="2149" width="90" height="30"/><text x="661" y="2164">二、教学目标</text></g>
<g id="n-l2-2a" class="o"><rect x="531" y="2078" width="98" height="30"/><text x="538" y="2093">1、知识目标：</text></g>
<g id="n-l2-2at" class="o"><rect x="231" y="2062" width="274" height="63"/><text><tspan x="238" y="2077">1)、词汇：hill，house，station，train，up</tspan><tspan x="238" y="2093.5">，down，near. 2)、运用方位介词up，dow</tspan><tspan x="238" y="2110">n，near，a.</tspan></text></g>
<g id="n-l2-2b" class="o"><rect x="531" y="2219" width="98" height="30"/><text x="538" y="2234">2、能力目标：</text></g>
<g id="n-l2-2b1" class="o"><rect x="233" y="2153" width="272" height="30"/><text x="240" y="2168">1)、能听懂老师发出的指令，迅速做出反应。</text></g>
<g id="n-l2-2b2" class="o"><rect x="231" y="2210" width="274" height="46.5"/><text><tspan x="238" y="2225">2)、能根据提供的信息，完成新词的学习与训</tspan><tspan x="238" y="2241.5">练。</tspan></text></g>
<g id="n-l2-2b3" class="o"><rect x="246" y="2285" width="259" height="30"/><text x="253" y="2300">3)、能运用所学知识进行简单的英语交流。</text></g>
<g id="n-l2-3" class="o"><rect x="627" y="2438" width="117" height="30"/><text x="634" y="2453">三、教学的重难点</text></g>
<g id="n-l2-3a" class="o"><rect x="538" y="2343" width="64" height="30"/><text x="545" y="2358">教学重点</text></g>
<g id="n-l2-3b" class="o"><rect x="329" y="2400" width="273" height="46.5"/><text><tspan x="336" y="2415">词汇hill，house，station，train，up，do</tspan><tspan x="336" y="2431.5">wn，near.</tspan></text></g>
<g id="n-l2-3c" class="o"><rect x="538" y="2475" width="64" height="30"/><text x="545" y="2490">教学难点</text></g>
<g id="n-l2-3d" class="o"><rect x="360" y="2533" width="242" height="30"/><text x="367" y="2548">活运用方位介词up，down，near，a。</text></g>
<g id="n-l2-4" class="o"><rect x="669" y="2641" width="75" height="30"/><text x="676" y="2656">四、说学情</text></g>
<g id="n-l2-4t" class="o"><rect x="369" y="2592" width="273" height="129"/><text><tspan x="376" y="2607">四年级的学生活泼好动、求知欲强，对直观、</tspan><tspan x="376" y="2623.5">形象的事物比较有兴趣，喜欢模仿和游戏。对</tspan><tspan x="376" y="2640">英语的学习积累了一些能力和方法，在三年级</tspan><tspan x="376" y="2656.5">已经掌握了少量的介词，如：on，in，under</tspan><tspan x="376" y="2673">等。并且在第一单元中接触了简单的问路和指</tspan><tspan x="376" y="2689.5">路的句型。这些都为本课的学习做了良好的铺</tspan><tspan x="376" y="2706">垫。</tspan></text></g>
<g id="n-l2-5" class="o"><rect x="654" y="2758" width="90" height="30"/><text x="661" y="2773">五、教学准备</text></g>
<g id="n-l2-5t" class="o"><rect x="355" y="2751" width="274" height="46.5"/><text><tspan x="362" y="2766">多媒体教学课件、教学图片、单词卡、贴贴等</tspan><tspan x="362" y="2782.5">。</tspan></text></g>
<g id="n-l2-6" class="o"><rect x="641" y="3427" width="103" height="30"/><text x="648" y="3442">六、说教学过程</text></g>
<g id="n-l2-6a" class="o"><rect x="516" y="2971" width="98" height="30"/><text x="523" y="2986">(一)、导入设计</text></g>
<g id="n-l2-6a1" class="o"><rect x="217" y="2825" width="274" height="162"/><text><tspan x="224" y="2840">1、Warm up：Sing a song.—left foot, rig</tspan><tspan x="224" y="2856.5">ht foot, left foot, right...以此把学生带入今</tspan><tspan x="224" y="2873">天的课堂。这样学生就自然地进入到一个良好</tspan><tspan x="224" y="2889.5">的英语氛围，当歌声落下，我热情地和学生打</tspan><tspan x="224" y="2906">招呼，与学生用英语进行简单的交谈。出示课</tspan><tspan x="224" y="2922.5">件和简笔画，用Excuse me. Where is...?进</tspan><tspan x="224" y="2939">行看图问答，复习问路和指路使用的语言。请</tspan><tspan x="224" y="2955.5">全班同学为踊跃举手的'同学鼓掌，肯定他们</tspan><tspan x="224" y="2972">的努力，鼓励他们大胆尝试。</tspan></text></g>
<g id="n-l2-6a2" class="o"><rect x="217" y="3017" width="274" height="96"/><text><tspan x="224" y="3032">2、Let’s go to a place. Look!Here we are</tspan><tspan x="224" y="3048.5">.把本课的hill, station, house，rain等图片展</tspan><tspan x="224" y="3065">出。使用单词卡片学习单词hill, station ,hou</tspan><tspan x="224" y="3081.5">se, rain。反复操练后，接着开展I can read!</tspan><tspan x="224" y="3098">活动，检测学生对单词的熟练程度。</tspan></text></g>
<g id="n-l2-6b" class="o"><rect x="516" y="3317" width="98" height="30"/><text x="523" y="3332">(二)、新课呈现</text></g>
<g id="n-l2-6b1" class="o"><rect x="217" y="3143" width="274" height="129"/><text><tspan x="224" y="3158">1)、用简笔画添上一条铁轨。Let’s go by r</tspan><tspan x="224" y="3174.5">ain.邀请学生们一起坐着这辆火车去游玩，播</tspan><tspan x="224" y="3191">放CD-ROM，为了更好地完成课程目标，我</tspan><tspan x="224" y="3207.5">给学生下达了任务：让他们注意看图中火车分</tspan><tspan x="224" y="3224">别进行到什么位置?这些内容用英语又怎样表</tspan><tspan x="224" y="3240.5">述呢?为了更好地帮助学生听懂录音，同时把</tspan><tspan x="224" y="3257">Where is trainX? It’s X.写在简图的下方。</tspan></text></g>
<g id="n-l2-6b2" class="o"><rect x="217" y="3300" width="274" height="112.5"/><text><tspan x="224" y="3315">2)、儿童的心理特点是好奇的，所以我选在这</tspan><tspan x="224" y="3331.5">个时候为学生的疑问对故事中表示位置的介词</tspan><tspan x="224" y="3348">进行讲解：把火车头对着山顶开，然后说：</tspan><tspan x="224" y="3364.5">We are up the hill。然后操练和检测;用同样</tspan><tspan x="224" y="3381">的方式学习down the hill，near the houses</tspan><tspan x="224" y="3397.5">，at the station。</tspan></text></g>
<g id="n-l2-6b3" class="o"><rect x="297" y="3443" width="194" height="30"/><text x="304" y="3458">3)、再听一遍录音，带读课文。</text></g>
<g id="n-l2-6c" class="o"><rect x="516" y="3648" width="98" height="30"/><text x="523" y="3663">(三)、巩固操练</text></g>
<g id="n-l2-6c1" class="o"><rect x="275" y="3501" width="216" height="30"/><text x="282" y="3516">1、活动一：抢答游戏，题型包括：</text></g>
<g id="n-l2-6c2" class="o"><rect x="354" y="3559" width="137" height="30"/><text x="361" y="3574">1、Read and match.</text></g>
<g id="n-l2-6c3" class="o"><rect x="403" y="3617" width="88" height="30"/><text x="410" y="3632">2、Lisening.</text></g>
<g id="n-l2-6c4" class="o"><rect x="334" y="3674" width="157" height="30"/><text x="341" y="3689">3、Read and complete.</text></g>
<g id="n-l2-6c5" class="o"><rect x="315" y="3732" width="176" height="30"/><text x="322" y="3747">4、Look and say(SB活动3).</text></g>
<g id="n-l2-6c6" class="o"><rect x="217" y="3789" width="274" height="46.5"/><text><tspan x="224" y="3804">2、活动二：播放课文活动4录音，鼓励学生</tspan><tspan x="224" y="3820.5">跟着韵诗唱起来、动起来。</tspan></text></g>
<g id="n-l2-6d" class="o"><rect x="516" y="3882" width="98" height="30"/><text x="523" y="3897">(四)、课后作业</text></g>
<g id="n-l2-6dt" class="o"><rect x="217" y="3866" width="274" height="63"/><text><tspan x="224" y="3881">画出从学校到家的路线图，运用本单元学过的</tspan><tspan x="224" y="3897.5">知识向同学介绍从学校到家的路线;向家人介</tspan><tspan x="224" y="3914">绍从家到学校的路线。</tspan></text></g>

<!-- Section: 设计5 -->
<g id="n-l3" class="h hp"><rect x="771" y="5530" width="263" height="37"/><text x="902.5" y="5548.5" text-anchor="middle">小学四年级英语课堂教学设计5</text></g>
<g id="n-l3-1" class="p"><rect x="657" y="4623" width="87" height="30"/><text x="664" y="4638">【教学过程】</text></g>
<g id="n-l3-1a" class="p"><rect x="425" y="3956" width="204" height="30"/><text x="432" y="3971">1热身/复习(Warm-up/Revision)</text></g>
<g id="n-l3-1b" class="p"><rect x="355" y="4015" width="274" height="63"/><text><tspan x="362" y="4030">(1)教师播放英文歌曲"They Are in the Zoo"</tspan><tspan x="362" y="4046.5">"An Apple a Day"，师生共同边演唱边拍手</tspan><tspan x="362" y="4063">打节拍。</tspan></text></g>
<g id="n-l3-1c" class="p"><rect x="482" y="4106" width="147" height="30"/><text x="489" y="4121">(2)学生日常口语练习。</text></g>
<g id="n-l3-1d" class="p"><rect x="355" y="4164" width="274" height="46.5"/><text><tspan x="362" y="4179">(3)用实物、玩具或图片等复习所学过的水果</tspan><tspan x="362" y="4195.5">及动物，并用单词卡认读单词。</tspan></text></g>
<g id="n-l3-1d1" class="p"><rect x="171" y="4172" width="158" height="30"/><text x="178" y="4187">2呈现新课(Presentation)</text></g>
<g id="n-l3-1e" class="p"><rect x="355" y="4238" width="274" height="63"/><text><tspan x="362" y="4253">(1)教师播放故事录像，展示Let’s act 部分</tspan><tspan x="362" y="4269.5">的内容，并让学生了解人物关系和故事的大概</tspan><tspan x="362" y="4286">含义。</tspan></text></g>
<g id="n-l3-1f" class="p"><rect x="355" y="4330" width="274" height="145.5"/><text><tspan x="362" y="4345">(2)游戏：教师拿出准备好的以下几种动物的</tspan><tspan x="362" y="4361.5">面具 giraffe, elephant, monkey, mouse, ra</tspan><tspan x="362" y="4378">bbit,tiger, Zoom。告诉学生游戏的名字叫：</tspan><tspan x="362" y="4394.5">"做做玩儿"，方法是：谁戴上动物的面具，就</tspan><tspan x="362" y="4411">要表演此种动物的外表特征，并用简单的形容</tspan><tspan x="362" y="4427.5">词表述。用此方法复习形容词，并根据故事的</tspan><tspan x="362" y="4444">内容引出单词：tall, long, strong, short ...</tspan><tspan x="362" y="4460.5">。</tspan></text></g>
<g id="n-l3-1f1" class="p"><rect x="56" y="4364" width="273" height="79.5"/><text><tspan x="63" y="4379">继续以上游戏，方法有所不同：教师说单词 g</tspan><tspan x="63" y="4395.5">et, carry, eat, have, count, 让学生根据刚才</tspan><tspan x="63" y="4412">所看故事内容猜单词含义并做动作，让学生了</tspan><tspan x="63" y="4428.5">解单词的具体意义。</tspan></text></g>
<g id="n-l3-1g" class="p"><rect x="482" y="4506" width="147" height="30"/><text x="489" y="4521">(3)听录音，跟读故事。</text></g>
<g id="n-l3-1h" class="p"><rect x="365" y="4563" width="264" height="30"/><text x="372" y="4578">(4)教师带读故事中的各个句子，并译中文。</text></g>
<g id="n-l3-1h1" class="p"><rect x="203" y="4563" width="137" height="30"/><text x="210" y="4578">3 趣味操练 (Practise)</text></g>
<g id="n-l3-1i" class="p"><rect x="355" y="4770" width="274" height="46.5"/><text><tspan x="362" y="4785">(1)教师播放动画课件，并根据故事向学生提</tspan><tspan x="362" y="4801.5">问，检查学生对故事了解情况。</tspan></text></g>
<g id="n-l3-1i1" class="p"><rect x="56" y="4620" width="273" height="46.5"/><text><tspan x="63" y="4635">如：How many animals are there in the p</tspan><tspan x="63" y="4651.5">arty?</tspan></text></g>
<g id="n-l3-1i2" class="p"><rect x="94" y="4695" width="235" height="30"/><text x="101" y="4710">Can you say some fruit in the story?</text></g>
<g id="n-l3-1i3" class="p"><rect x="169" y="4753" width="160" height="30"/><text x="176" y="4768">Who can get the apple?</text></g>
<g id="n-l3-1i4" class="p"><rect x="145" y="4811" width="184" height="30"/><text x="152" y="4826">What can the elephant get?</text></g>
<g id="n-l3-1i5" class="p"><rect x="60" y="4869" width="269" height="30"/><text x="67" y="4884">How many pears are there in the picture?</text></g>
<g id="n-l3-1i6" class="p"><rect x="190" y="4926" width="139" height="30"/><text x="197" y="4941">How many peaches?</text></g>
<g id="n-l3-1j" class="p"><rect x="355" y="4985" width="274" height="79.5"/><text><tspan x="362" y="5000">(2)教师找7名学生，一起戴上giraffe, elepha</tspan><tspan x="362" y="5016.5">nt, monkey, mouse, rabbit, tiger, Zoom的</tspan><tspan x="362" y="5033">头饰或面具，按故事中的人物进行对话表演。</tspan><tspan x="362" y="5049.5">为全体学生的小组练习做准备。</tspan></text></g>
<g id="n-l3-1k" class="p"><rect x="469" y="5093" width="160" height="30"/><text x="476" y="5108">(3)小组练习，角色扮演。</text></g>
<g id="n-l3-1k1" class="p"><rect x="201" y="5093" width="242" height="30"/><text x="208" y="5108">将学生按7人一组，按角色进行练习。</text></g>
<g id="n-l3-1l" class="p"><rect x="355" y="5279" width="274" height="46.5"/><text><tspan x="362" y="5294">(4)将头饰和面具发给表演的小组，让表演的</tspan><tspan x="362" y="5310.5">小组到讲台前展示。</tspan></text></g>
<g id="n-l3-1l1" class="p"><rect x="169" y="5151" width="160" height="30"/><text x="176" y="5166">4 课堂评价 (Assessment)</text></g>
<g id="n-l3-1l2" class="p"><rect x="120" y="5210" width="209" height="30"/><text x="127" y="5225">听录音做活动手册第41页的练习。</text></g>
<g id="n-l3-1l3" class="p"><rect x="147" y="5267" width="182" height="30"/><text x="154" y="5282">5 扩展性活动(Add-activities)</text></g>
<g id="n-l3-1l4" class="p"><rect x="56" y="5325" width="273" height="63"/><text><tspan x="63" y="5340">让学生在书中任意找一幅图案，试着自编一段</tspan><tspan x="63" y="5356.5">对话，并说给伙伴们听。内容可以与图中原有</tspan><tspan x="63" y="5373">相似，但不可相同。</tspan></text></g>
<g id="n-l3-1l5" class="p"><rect x="56" y="5417" width="273" height="46.5"/><text><tspan x="63" y="5432">此活动让学生自由想象对话内容，充分发挥学</tspan><tspan x="63" y="5448.5">生的自主性和主动性。</tspan></text></g>
<g id="n-l3-2" class="p"><rect x="657" y="6446" width="87" height="30"/><text x="664" y="6461">【板书设计】</text></g>
<g id="n-l3-2a" class="p"><rect x="539" y="5491" width="90" height="30"/><text x="546" y="5506">Recycle Two</text></g>
<g id="n-l3-2b" class="p"><rect x="355" y="5549" width="274" height="46.5"/><text><tspan x="362" y="5564">I like bananas. I’m tall. Where is my ban</tspan><tspan x="362" y="5580.5">ana?</tspan></text></g>
<g id="n-l3-2c" class="p"><rect x="460" y="5624" width="169" height="30"/><text x="467" y="5639">I like apples. I’m strong.</text></g>
<g id="n-l3-2d" class="p"><rect x="440" y="5681" width="189" height="30"/><text x="447" y="5696">I like pears. My nose is long.</text></g>
<g id="n-l3-2e" class="p"><rect x="565" y="5740" width="64" height="30"/><text x="572" y="5755">探究活动</text></g>
<g id="n-l3-2f" class="p"><rect x="531" y="5797" width="98" height="30"/><text x="538" y="5812">Draw on back</text></g>
<g id="n-l3-2g" class="p"><rect x="369" y="5855" width="260" height="30"/><text x="376" y="5870">探究内容：水果、动物、玩具单词的练习。</text></g>
<g id="n-l3-2h" class="p"><rect x="355" y="5912" width="274" height="46.5"/><text><tspan x="362" y="5927">活动目的：进一步调动学生巩固4-6单元的单</tspan><tspan x="362" y="5943.5">词的兴趣。</tspan></text></g>
<g id="n-l3-2i" class="p"><rect x="525" y="5987" width="104" height="30"/><text x="532" y="6002">活动方式：游戏</text></g>
<g id="n-l3-2j" class="p"><rect x="565" y="6046" width="64" height="30"/><text x="572" y="6061">探究过程</text></g>
<g id="n-l3-2k" class="p"><rect x="355" y="6104" width="274" height="79.5"/><text><tspan x="362" y="6119">(1)学生两人一组活动。一个学生想出一个水</tspan><tspan x="362" y="6135.5">果、动物或玩具的图案，慢慢的在同伴的背上</tspan><tspan x="362" y="6152">画出来，同伴猜是什么，并用英语说出英文名</tspan><tspan x="362" y="6168.5">称。</tspan></text></g>
<g id="n-l3-2l" class="p"><rect x="443" y="6211" width="186" height="30"/><text x="450" y="6226">(2)画图的学生宣布正确答案。</text></g>
<g id="n-l3-2m" class="p"><rect x="355" y="6385" width="274" height="46.5"/><text><tspan x="362" y="6400">(3)另一名学生重复以上活动。让每个学生在</tspan><tspan x="362" y="6416.5">伙伴的背上至少画两次图案。</tspan></text></g>
<g id="n-l3-2m1" class="p"><rect x="252" y="6270" width="77" height="30"/><text x="259" y="6285">介绍你我他</text></g>
<g id="n-l3-2m2" class="p"><rect x="174" y="6328" width="155" height="30"/><text x="181" y="6343">探究内容：介绍你我他。</text></g>
<g id="n-l3-2m3" class="p"><rect x="56" y="6385" width="273" height="46.5"/><text><tspan x="63" y="6400">活动目的：学会使用从本单元学到的表喜好、</tspan><tspan x="63" y="6416.5">表形容等用语进行交际。</tspan></text></g>
<g id="n-l3-2m4" class="p"><rect x="56" y="6459" width="273" height="30"/><text x="63" y="6474">活动方式：自我思考、自我形容、相互介绍。</text></g>
<g id="n-l3-2m5" class="p"><rect x="265" y="6519" width="64" height="30"/><text x="272" y="6534">探究过程</text></g>
<g id="n-l3-2n" class="p"><rect x="355" y="6577" width="274" height="46.5"/><text><tspan x="362" y="6592">(1)让学生自己想想，用哪些词语能形容和表</tspan><tspan x="362" y="6608.5">述自己。</tspan></text></g>
<g id="n-l3-2o" class="p"><rect x="355" y="6650" width="274" height="46.5"/><text><tspan x="362" y="6665">(2)让6-7个学生向大家介绍自己。如：I'm Je</tspan><tspan x="362" y="6681.5">nny. I'm tall/short. I like apples.</tspan></text></g>
<g id="n-l3-2p" class="p"><rect x="355" y="6832" width="274" height="79.5"/><text><tspan x="362" y="6847">(3)分小组，让学生说说自己的同时，记住一</tspan><tspan x="362" y="6863.5">到两个伙伴的情况。如：Tom is tall/short.</tspan><tspan x="362" y="6880">He likes apples. 此时不多强调学生的语法错</tspan><tspan x="362" y="6896.5">误，但要给学生纠正错误。</tspan></text></g>
<g id="n-l3-2p1" class="p"><rect x="265" y="6726" width="64" height="30"/><text x="272" y="6741">拼图游戏</text></g>
<g id="n-l3-2p2" class="p"><rect x="56" y="6783" width="273" height="46.5"/><text><tspan x="63" y="6798">探究内容：通过拼图游戏巩固水果、动物、玩</tspan><tspan x="63" y="6814.5">具类单词。</tspan></text></g>
<g id="n-l3-2p3" class="p"><rect x="56" y="6858" width="273" height="46.5"/><text><tspan x="63" y="6873">活动目的：进一步调动学生巩固4-6单元的单</tspan><tspan x="63" y="6889.5">词的兴趣。</tspan></text></g>
<g id="n-l3-2p4" class="p"><rect x="69" y="6933" width="260" height="30"/><text x="76" y="6948">活动方式：讨论、游戏、展示、合作学习。</text></g>
<g id="n-l3-2p5" class="p"><rect x="252" y="6992" width="77" height="30"/><text x="259" y="7007">探究过程：</text></g>
<g id="n-l3-2q" class="p"><rect x="547" y="7090" width="82" height="30"/><text x="554" y="7105">(1)师生讨论</text></g>
<g id="n-l3-2q1" class="p"><rect x="249" y="7049" width="273" height="46.5"/><text><tspan x="256" y="7064">教师询问学生有关水果、动物、玩具类单词都</tspan><tspan x="256" y="7080.5">掌握了那些?</tspan></text></g>
<g id="n-l3-2q2" class="p"><rect x="367" y="7124" width="155" height="30"/><text x="374" y="7139">要学生用英文表述单词。</text></g>
<g id="n-l3-2r" class="p"><rect x="574" y="7235" width="55" height="30"/><text x="581" y="7250">(2)游戏</text></g>
<g id="n-l3-2r1" class="p"><rect x="275" y="7181" width="274" height="46.5"/><text><tspan x="282" y="7196">教师说：今天进行拼图游戏，拼图的内容由学</tspan><tspan x="282" y="7212.5">生自己制作。</tspan></text></g>
<g id="n-l3-2r2" class="p"><rect x="275" y="7256" width="274" height="79.5"/><text><tspan x="282" y="7271">方法是：教师将有关水果、动物、玩具类单词</tspan><tspan x="282" y="7287.5">的图片复印后发给学生，让学生自己用剪刀将</tspan><tspan x="282" y="7304">图片制成拼图，然后相互交换。看谁最快地拼</tspan><tspan x="282" y="7320.5">出拼图，并用英文说出此图片。</tspan></text></g>
<g id="n-l3-2s" class="p"><rect x="534" y="7398" width="95" height="30"/><text x="541" y="7413">(3)分小组展示</text></g>
<g id="n-l3-2st" class="p"><rect x="236" y="7365" width="273" height="96"/><text><tspan x="243" y="7380">教师将学生分为5-6组，让学生把自己会用英</tspan><tspan x="243" y="7396.5">语说的类单词在小组中说一说，并鼓励学生形</tspan><tspan x="243" y="7413">容拼图内容。学生间相互提问，互相检测，使</tspan><tspan x="243" y="7429.5">每个学生尽情展示自己的英语学习水平，相互</tspan><tspan x="243" y="7446">促进。</tspan></text></g>
</g>
</svg>
